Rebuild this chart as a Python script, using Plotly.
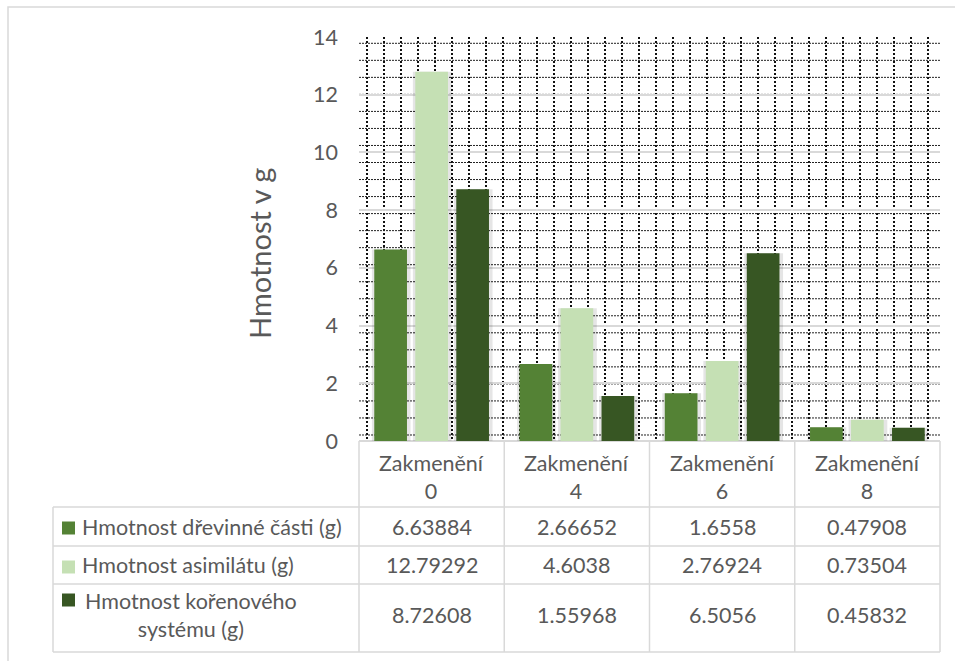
import plotly.graph_objects as go

# Data
categories = ["Zakmenění 0", "Zakmenění 4", "Zakmenění 6", "Zakmenění 8"]
header_labels = ["Zakmenění<br>0", "Zakmenění<br>4", "Zakmenění<br>6", "Zakmenění<br>8"]
series_names = [
    "Hmotnost dřevinné části (g)",
    "Hmotnost asimilátu (g)",
    "Hmotnost kořenového systému (g)",
]
row_labels = [
    "Hmotnost dřevinné části (g)",
    "Hmotnost asimilátu (g)",
    "Hmotnost kořenového<br>systému (g)",
]
drevinna = [6.63884, 2.66652, 1.6558, 0.47908]
asimilat = [12.79292, 4.6038, 2.76924, 0.73504]
koreny = [8.72608, 1.55968, 6.5056, 0.45832]
value_text = [
    ["6.63884", "2.66652", "1.6558", "0.47908"],
    ["12.79292", "4.6038", "2.76924", "0.73504"],
    ["8.72608", "1.55968", "6.5056", "0.45832"],
]
colors = ["#548235", "#C5E0B4", "#375623"]
y_ticks = [0, 2, 4, 6, 8, 10, 12, 14]

# Canvas geometry (pixels)
W, H = 955, 661
PL, PR, PT, PB = 359, 940, 37, 441
PW, PH = PR - PL, PB - PT

FONT = "Lato, 'Open Sans', sans-serif"
FS = 21.5
TXT = "#595959"
GRID = "#D9D9D9"


def px(x):
    return (x - PL) / PW


def py(y):
    return (PB - y) / PH


fig = go.Figure()

series = [drevinna, asimilat, koreny]
slot = 41 / (PW / 4)
bar_w = 32.7 / (PW / 4)
shadow_w = bar_w + 6 / (PW / 4)

# soft shadows behind the bars
for i, vals in enumerate(series):
    center = (i - 1) * slot
    fig.add_trace(go.Bar(
        x=categories, y=vals, width=shadow_w, offset=center - shadow_w / 2 + 0.004,
        marker=dict(color="rgba(0,0,0,0.10)", line=dict(width=0)),
        hoverinfo="skip", showlegend=False,
    ))

for i, (name, vals) in enumerate(zip(series_names, series)):
    center = (i - 1) * slot
    fig.add_trace(go.Bar(
        x=categories, y=vals, name=name, width=bar_w, offset=center - bar_w / 2,
        marker=dict(color=colors[i], line=dict(width=0)),
        showlegend=False,
    ))

shapes = []
# dotted grid pattern filling the plot area
x = 367.0
while x < PR - 2:
    shapes.append(dict(type="line", xref="paper", yref="paper",
                       x0=px(x), x1=px(x), y0=py(PT), y1=py(PB),
                       line=dict(color="#111111", width=2, dash="2px,2px"),
                       layer="below"))
    x += 17.0
y = 43.3
while y < PB - 2:
    shapes.append(dict(type="line", xref="paper", yref="paper",
                       x0=px(PL), x1=px(PR), y0=py(y), y1=py(y),
                       line=dict(color="#222222", width=1, dash="2px,1px"),
                       layer="below"))
    y += 17.03

# outer chart border
shapes.append(dict(type="rect", xref="paper", yref="paper",
                   x0=px(8), x1=px(1000), y0=py(7), y1=py(720),
                   line=dict(color=GRID, width=1.5), fillcolor="rgba(0,0,0,0)"))

# data table grid
col_x = [PL + PW * k / 4 for k in range(5)]
row_y = [507, 546, 584, 652]
tbl_line = dict(color=GRID, width=1.5)
for cx in col_x:
    shapes.append(dict(type="line", xref="paper", yref="paper",
                       x0=px(cx), x1=px(cx), y0=py(PB), y1=py(652), line=tbl_line))
shapes.append(dict(type="line", xref="paper", yref="paper",
                   x0=px(53), x1=px(53), y0=py(507), y1=py(652), line=tbl_line))
for ry in row_y:
    shapes.append(dict(type="line", xref="paper", yref="paper",
                       x0=px(53), x1=px(PR), y0=py(ry), y1=py(ry), line=tbl_line))

# legend keys in the row labels
key_y = [528, 567, 600]
for i, ky in enumerate(key_y):
    shapes.append(dict(type="rect", xref="paper", yref="paper",
                       x0=px(62), x1=px(75), y0=py(ky - 6.5), y1=py(ky + 6.5),
                       fillcolor=colors[i], line=dict(width=0)))

annotations = []
# y axis title
annotations.append(dict(text="Hmotnost v g", xref="paper", yref="paper",
                        x=px(259), y=py(254), textangle=-90, showarrow=False,
                        font=dict(family=FONT, size=29, color=TXT),
                        xanchor="center", yanchor="middle"))
# header (category names)
for k, lab in enumerate(header_labels):
    annotations.append(dict(text=lab, xref="x", yref="paper",
                            x=categories[k], y=py(477), showarrow=False,
                            font=dict(family=FONT, size=FS, color=TXT),
                            xanchor="center", yanchor="middle"))
# row labels
row_centers = [527, 565, 615]
for i, lab in enumerate(row_labels):
    if i < 2:
        annotations.append(dict(text=lab, xref="paper", yref="paper",
                                x=px(80), y=py(row_centers[i]), showarrow=False,
                                font=dict(family=FONT, size=FS, color=TXT),
                                xanchor="left", yanchor="middle"))
    else:
        annotations.append(dict(text=lab, xref="paper", yref="paper",
                                x=px(191), y=py(row_centers[i]), showarrow=False,
                                align="center",
                                font=dict(family=FONT, size=FS, color=TXT),
                                xanchor="center", yanchor="middle"))
# values
for i in range(3):
    for k in range(4):
        annotations.append(dict(text=value_text[i][k], xref="x", yref="paper",
                                x=categories[k], y=py(row_centers[i]), showarrow=False,
                                font=dict(family=FONT, size=FS, color=TXT),
                                xanchor="center", yanchor="middle"))

fig.update_layout(
    width=W, height=H,
    margin=dict(l=PL, r=W - PR, t=PT, b=H - PB, pad=0),
    paper_bgcolor="white", plot_bgcolor="rgba(0,0,0,0)",
    barmode="overlay",
    font=dict(family=FONT, color=TXT),
    shapes=shapes, annotations=annotations,
    xaxis=dict(showticklabels=False, showgrid=False, zeroline=False,
               showline=False, ticks="", fixedrange=True),
    yaxis=dict(range=[0, 14], tickvals=y_ticks, showgrid=True, gridcolor=GRID,
               gridwidth=1.5, zeroline=True, zerolinecolor=GRID, zerolinewidth=1.5,
               showline=False, ticks="", ticklabelstandoff=20,
               tickfont=dict(family=FONT, size=FS, color=TXT), fixedrange=True),
)

fig.write_html("out.html")
